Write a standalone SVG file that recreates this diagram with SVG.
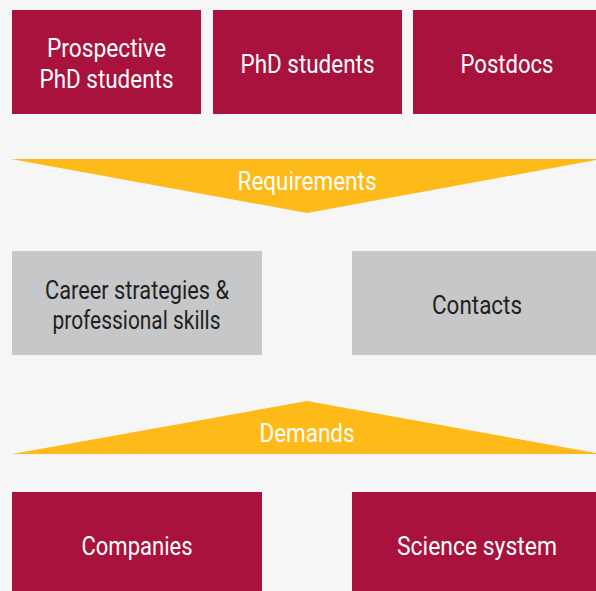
<svg xmlns="http://www.w3.org/2000/svg" width="596" height="591" viewBox="0 0 596 591">
<style>
.red{fill:#a9123c}
.gray{fill:#c6c7c9}
.yel{fill:#fdba18}
text{font-family:"Liberation Sans Narrow","Roboto","Liberation Sans",sans-serif;font-size:25px;text-anchor:middle}
.w{fill:#ffffff}
.d{fill:#231f20}
</style>
<rect width="596" height="591" fill="#f6f6f6"/>
<g id="prospective">
<rect class="red" x="12" y="10" width="189" height="104"/>
<text class="w" x="106.5" y="57" textLength="119" lengthAdjust="spacingAndGlyphs">Prospective</text>
<text class="w" x="106.5" y="88" textLength="134" lengthAdjust="spacingAndGlyphs">PhD students</text>
</g>
<g id="phd">
<rect class="red" x="213" y="10" width="189" height="104"/>
<text class="w" x="307.5" y="73" textLength="134" lengthAdjust="spacingAndGlyphs">PhD students</text>
</g>
<g id="postdocs">
<rect class="red" x="413" y="10" width="189" height="104"/>
<text class="w" x="507" y="73" textLength="93" lengthAdjust="spacingAndGlyphs">Postdocs</text>
</g>
<g id="connectors">
<g id="requirements">
<polygon class="yel" points="11,159 596,159 596,160 307,213"/>
<text class="w" x="307" y="190" textLength="139" lengthAdjust="spacingAndGlyphs">Requirements</text>
</g>
<g id="demands">
<polygon class="yel" points="307,401 596,453 596,454 12,454"/>
<text class="w" x="307" y="442" textLength="95" lengthAdjust="spacingAndGlyphs">Demands</text>
</g>
</g>
<g id="career">
<rect class="gray" x="12" y="251" width="250" height="104"/>
<text class="d" x="137" y="299" textLength="184" lengthAdjust="spacingAndGlyphs">Career strategies &amp;</text>
<text class="d" x="136.5" y="329" textLength="168" lengthAdjust="spacingAndGlyphs">professional skills</text>
</g>
<g id="contacts">
<rect class="gray" x="352" y="251" width="250" height="104"/>
<text class="d" x="477" y="314" textLength="90" lengthAdjust="spacingAndGlyphs">Contacts</text>
</g>
<g id="companies">
<rect class="red" x="12" y="492" width="250" height="104"/>
<text class="w" x="137" y="555" textLength="111" lengthAdjust="spacingAndGlyphs">Companies</text>
</g>
<g id="science">
<rect class="red" x="352" y="492" width="250" height="104"/>
<text class="w" x="477" y="555" textLength="160" lengthAdjust="spacingAndGlyphs">Science system</text>
</g>
</svg>
